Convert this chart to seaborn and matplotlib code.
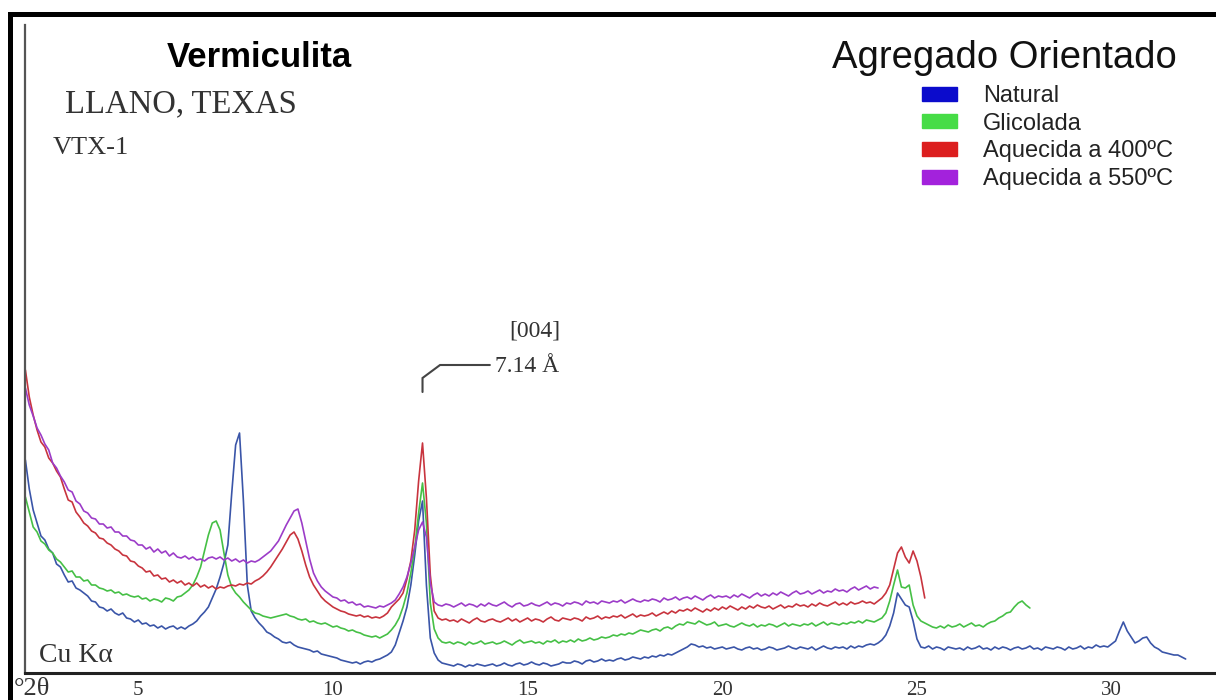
import numpy as np
import pandas as pd
import matplotlib
matplotlib.use("Agg")
import matplotlib.pyplot as plt
from matplotlib.patches import Patch, Rectangle
import seaborn as sns

# Diffractograms recorded every 0.1° 2θ, starting at 2.1°
START_2THETA = 2.1
STEP_2THETA = 0.1

# Intensities (arbitrary units), one row per degree of 2θ
natural = [
    213, 184, 163, 150, 137, 133, 124, 120, 109, 106,
    98, 91, 92, 85, 83, 80, 77, 72, 71, 66,
    65, 62, 64, 60, 58, 60, 55, 54, 51, 53,
    49, 50, 47, 48, 45, 47, 44, 46, 47, 44,
    46, 44, 47, 49, 52, 57, 61, 66, 75, 84,
    96, 110, 128, 180, 228, 240, 172, 88, 62, 55,
    50, 46, 41, 39, 36, 34, 31, 30, 31, 28,
    26, 25, 24, 23, 21, 22, 19, 18, 17, 16,
    15, 13, 12, 11, 10, 11, 9, 11, 12, 11,
    13, 14, 16, 18, 21, 28, 40, 52, 66, 88,
    118, 152, 172, 88, 35, 20, 13, 10, 9, 8,
    7, 9, 8, 6, 8, 7, 9, 8, 7, 8,
    9, 7, 8, 10, 8, 7, 9, 10, 8, 9,
    11, 9, 8, 10, 9, 7, 8, 9, 11, 10,
    10, 12, 11, 9, 12, 13, 11, 12, 14, 12,
    13, 12, 14, 15, 13, 14, 16, 15, 14, 16,
    15, 17, 16, 18, 17, 19, 18, 20, 22, 24,
    26, 29, 28, 26, 27, 25, 26, 24, 25, 26,
    24, 25, 26, 24, 23, 25, 26, 24, 25, 23,
    24, 26, 25, 23, 24, 25, 27, 25, 24, 26,
    25, 24, 26, 23, 25, 27, 25, 24, 26, 25,
    26, 24, 27, 25, 27, 26, 28, 29, 28, 30,
    33, 38, 47, 60, 80, 74, 68, 66, 52, 34,
    26, 25, 27, 24, 26, 25, 23, 26, 25, 24,
    25, 23, 26, 24, 25, 27, 24, 25, 23, 26,
    24, 26, 25, 23, 25, 26, 24, 25, 27, 24,
    25, 23, 26, 25, 24, 26, 25, 23, 26, 24,
    25, 27, 24, 26, 25, 28, 26, 27, 26, 29,
    32, 42, 51, 42, 36, 30, 32, 35, 36, 30,
    26, 24, 21, 20, 19, 18, 18, 16, 14,
]

glicolada = [
    176, 161, 146, 141, 132, 129, 123, 120, 114, 111,
    106, 101, 102, 96, 96, 92, 93, 88, 88, 85,
    84, 82, 83, 80, 81, 78, 79, 77, 76, 77,
    74, 75, 72, 74, 73, 71, 75, 74, 72, 76,
    77, 80, 83, 88, 96, 106, 122, 138, 150, 152,
    143, 120, 98, 86, 80, 76, 71, 67, 63, 60,
    59, 57, 56, 55, 56, 57, 58, 59, 57, 56,
    54, 53, 54, 51, 52, 50, 49, 50, 48, 46,
    47, 45, 44, 42, 43, 41, 40, 38, 37, 36,
    37, 35, 37, 39, 43, 48, 55, 66, 80, 100,
    125, 160, 190, 150, 70, 44, 35, 31, 30, 31,
    29, 31, 30, 28, 31, 29, 30, 32, 29, 30,
    31, 29, 30, 32, 30, 28, 31, 33, 30, 31,
    32, 30, 31, 29, 32, 31, 33, 30, 32, 31,
    33, 31, 34, 32, 33, 35, 33, 34, 36, 35,
    36, 38, 37, 39, 38, 40, 39, 41, 43, 42,
    41, 43, 44, 42, 45, 46, 44, 47, 49, 48,
    51, 50, 49, 52, 50, 48, 49, 51, 47, 48,
    49, 47, 46, 48, 50, 48, 47, 49, 46, 48,
    47, 49, 48, 46, 48, 50, 47, 49, 48, 47,
    49, 48, 50, 47, 49, 51, 48, 50, 49, 48,
    50, 49, 51, 50, 52, 50, 53, 52, 51, 53,
    55, 60, 72, 88, 103, 86, 85, 88, 68, 57,
    52, 50, 48, 46, 45, 47, 45, 48, 46, 47,
    49, 46, 48, 50, 47, 48, 46, 49, 51, 52,
    55, 57, 60, 61, 66, 70, 72, 68, 65,
]

aquecida_400 = [
    303, 276, 258, 243, 231, 226, 215, 210, 202, 196,
    184, 173, 171, 161, 156, 150, 147, 142, 140, 135,
    134, 130, 128, 124, 122, 118, 117, 112, 111, 107,
    105, 101, 102, 97, 98, 94, 95, 91, 93, 90,
    92, 88, 90, 87, 90, 86, 88, 85, 87, 84,
    86, 85, 87, 88, 87, 89, 88, 90, 89, 92,
    94, 97, 101, 106, 112, 118, 124, 131, 138, 141,
    134, 122, 108, 96, 88, 82, 76, 72, 69, 66,
    64, 62, 61, 59, 58, 57, 58, 56, 57, 55,
    56, 55, 57, 60, 66, 70, 74, 80, 94, 112,
    143, 192, 230, 175, 98, 62, 55, 53, 54, 52,
    53, 51, 54, 52, 50, 53, 55, 52, 51, 53,
    54, 52, 51, 53, 55, 52, 54, 51, 53, 55,
    52, 54, 53, 51, 54, 56, 53, 52, 55, 54,
    53, 55, 54, 52, 56, 54, 55, 57, 54, 56,
    55, 57, 56, 58, 55, 57, 59, 56, 58, 57,
    58, 60, 57, 59, 61, 59, 62, 60, 63, 62,
    64, 62, 65, 63, 61, 64, 62, 65, 63, 66,
    64, 67, 65, 63, 66, 64, 67, 65, 68, 66,
    65, 67, 64, 66, 68, 65, 67, 66, 69, 67,
    68, 66, 69, 67, 70, 68, 67, 69, 71, 68,
    70, 68, 71, 69, 70, 72, 70, 71, 69, 72,
    75, 80, 88, 104, 120, 126, 116, 110, 122, 112,
    96, 75,
]

aquecida_550 = [
    285, 268, 257, 245, 238, 229, 223, 210, 205, 197,
    191, 183, 181, 172, 169, 162, 160, 155, 154, 149,
    149, 145, 146, 141, 141, 137, 137, 133, 132, 128,
    128, 124, 126, 121, 124, 120, 122, 117, 120, 116,
    115, 117, 114, 116, 113, 114, 112, 115, 116, 114,
    116, 113, 115, 112, 114, 111, 113, 110, 112, 111,
    113, 116, 119, 122, 127, 132, 140, 148, 155, 162,
    164, 150, 132, 114, 100, 92, 86, 82, 79, 76,
    75, 72, 73, 70, 71, 68, 69, 66, 67, 66,
    65, 67, 66, 68, 70, 73, 79, 86, 96, 110,
    126, 143, 151, 136, 90, 71, 68, 67, 69, 68,
    66, 68, 70, 67, 69, 68, 66, 69, 67, 70,
    68, 67, 69, 71, 68, 66, 69, 70, 67, 68,
    70, 68, 67, 69, 71, 68, 70, 69, 67, 70,
    69, 71, 70, 68, 72, 70, 71, 69, 72, 71,
    70, 72, 71, 73, 70, 72, 74, 72, 71, 73,
    72, 74, 73, 71, 75, 73, 74, 76, 73, 75,
    76, 74, 77, 75, 73, 76, 78, 75, 77, 76,
    77, 75, 78, 76, 79, 77, 75, 78, 80, 77,
    79, 77, 80, 78, 81, 79, 77, 80, 82, 79,
    80, 82, 79, 81, 83, 80, 82, 81, 84, 82,
    83, 81, 84, 86, 83, 85, 87, 84, 86, 85,
]

series_names = ["Natural", "Glicolada", "Aquecida a 400ºC", "Aquecida a 550ºC"]
series_values = [natural, glicolada, aquecida_400, aquecida_550]
line_colors = ["#3a55a8", "#46c046", "#c8343e", "#9c3cc8"]
legend_colors = ["#0b0bcc", "#46dc46", "#dc1e1e", "#a322dc"]
tick_values = [5, 10, 15, 20, 25, 30]

# (004) reflection of the heated sample
peak_004_2theta = 12.3
peak_004_index = "[004]"
peak_004_spacing = "7.14 Å"

frames = []
for name, vals in zip(series_names, series_values):
    two_theta = np.round(START_2THETA + STEP_2THETA * np.arange(len(vals)), 2)
    frames.append(pd.DataFrame({"2theta": two_theta, "I": vals, "amostra": name}))
df = pd.concat(frames, ignore_index=True)

sns.set_style("white")
SERIF = "Liberation Serif"
SANS = "Liberation Sans"
plt.rcParams["font.family"] = [SANS, "DejaVu Sans"]

W, H = 1216, 700
fig = plt.figure(figsize=(W / 100, H / 100), dpi=100)
fig.patch.set_facecolor("white")


def fx(px):
    return px / W


def fy(py):
    return 1 - py / H


ax = fig.add_axes([fx(25), 27 / H, (W - 25) / W, 648 / H])
ax.set_facecolor("white")

sns.lineplot(data=df, x="2theta", y="I", hue="amostra", hue_order=series_names,
             palette=line_colors, estimator=None, sort=False, linewidth=1.2,
             legend=False, ax=ax)

ax.set_xlim(2.09, 32.68)
ax.set_ylim(0, 648)
ax.set_xlabel("")
ax.set_ylabel("")
ax.set_yticks([])
ax.set_xticks(tick_values)
ax.set_xticklabels([str(v) for v in tick_values], fontfamily=SERIF,
                   fontsize=15, color="#333333")
ax.tick_params(axis="x", direction="inout", length=10, width=1.5,
               color="#333333", pad=1)
for side in ["top", "right"]:
    ax.spines[side].set_visible(False)
ax.spines["bottom"].set_linewidth(2.2)
ax.spines["bottom"].set_color("#222222")
ax.spines["left"].set_linewidth(1.6)
ax.spines["left"].set_color("#555555")

# bracket pointing at the (004) peak
bx = [peak_004_2theta, peak_004_2theta, peak_004_2theta + 0.45, peak_004_2theta + 1.73]
by = [281, 295, 308, 308]
ax.plot(bx, by, color="#444444", linewidth=1.5, solid_joinstyle="miter")
ax.text(peak_004_2theta + 1.86, 301, peak_004_spacing, fontfamily=SERIF,
        fontsize=17, color="#333333", ha="left", va="baseline")
ax.text(peak_004_2theta + 2.88, 336, peak_004_index, fontfamily=SERIF,
        fontsize=17, color="#333333", ha="center", va="baseline")

# headings
fig.text(fx(259), fy(67), "Vermiculita", fontfamily=SANS, fontweight="bold",
         fontsize=25, color="black", ha="center", va="baseline")
fig.text(fx(181), fy(112), "LLANO, TEXAS", fontfamily=SERIF, fontsize=23.5,
         color="#333333", ha="center", va="baseline")
fig.text(fx(91), fy(154), "VTX-1", fontfamily=SERIF, fontsize=19,
         color="#333333", ha="center", va="baseline")
fig.text(fx(76), fy(662), "Cu Kα", fontfamily=SERIF, fontsize=20,
         color="#333333", ha="center", va="baseline")
fig.text(fx(32), fy(695), "°2θ", fontfamily=SERIF, fontsize=19,
         color="#333333", ha="center", va="baseline")
fig.text(fx(1004), fy(68), "Agregado Orientado", fontfamily=SANS, fontsize=27.5,
         color="#111111", ha="center", va="baseline")

handles = [Patch(facecolor=c, edgecolor=c, label=n)
           for n, c in zip(series_names, legend_colors)]
leg = fig.legend(handles=handles, loc="upper left",
                 bbox_to_anchor=(fx(922), fy(85)), bbox_transform=fig.transFigure,
                 frameon=False, borderpad=0, borderaxespad=0,
                 prop={"family": SANS, "size": 17},
                 handlelength=1.49, handleheight=0.52, handletextpad=1.1,
                 labelspacing=0.24)
for t in leg.get_texts():
    t.set_color("#222222")

# heavy outer frame
fig.add_artist(Rectangle((fx(9.5), -0.2), 1.5, fy(14) + 0.2, fill=False,
                         linewidth=3.6, edgecolor="black",
                         transform=fig.transFigure))

fig.savefig("out.png", dpi=100, facecolor="white")
